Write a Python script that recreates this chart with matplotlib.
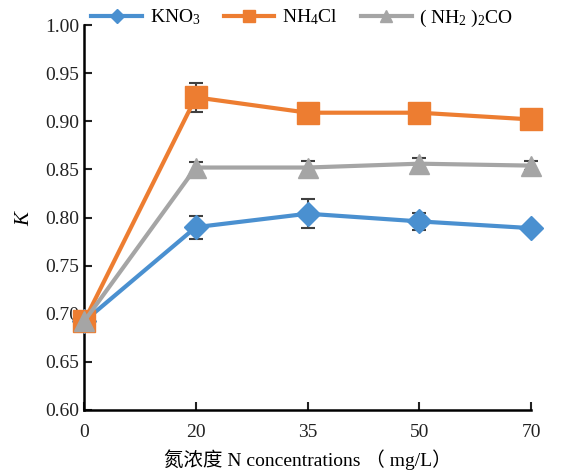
import matplotlib
matplotlib.use('Agg')
import matplotlib.pyplot as plt

plt.rcParams['font.family'] = ['Liberation Serif', 'Noto Sans CJK SC']
plt.rcParams['mathtext.fontset'] = 'custom'
plt.rcParams['mathtext.rm'] = 'Liberation Serif'
plt.rcParams['mathtext.it'] = 'Liberation Serif:italic'

# data
conc = ['0', '20', '35', '50', '70']
kno3 = [0.692, 0.790, 0.804, 0.796, 0.789]
kno3_err = [0.0, 0.012, 0.015, 0.009, 0.003]
nh4cl = [0.692, 0.925, 0.909, 0.909, 0.902]
nh4cl_err = [0.0, 0.015, 0.003, 0.003, 0.003]
urea = [0.692, 0.852, 0.852, 0.856, 0.854]
urea_err = [0.0, 0.006, 0.007, 0.006, 0.005]

fig = plt.figure(figsize=(5.76, 4.75), dpi=100)
ax = fig.add_axes([0.146, 0.137, 0.776, 0.81])

x = list(range(len(conc)))
series = [
    (kno3, kno3_err, '#4a90d0', 'D', 12.5, 'KNO$_3$'),
    (nh4cl, nh4cl_err, '#ed7d31', 's', 16.5, 'NH$_4$Cl'),
    (urea, urea_err, '#a5a5a5', '^', 15, '( NH$_2$ )$_2$CO'),
]
for y, e, c, m, ms, lab in series:
    ax.errorbar(x, y, yerr=e, fmt='none', ecolor='#404040', elinewidth=1.5,
                capsize=5, capthick=1.5, zorder=2, clip_on=False)
    ax.plot(x, y, color=c, lw=3, marker=m, ms=ms, label=lab, zorder=3,
            clip_on=False)

ax.set_xlim(0, 4)
ax.set_ylim(0.60, 1.00)
ax.set_xticks(x)
ax.set_xticklabels(conc)
ax.set_yticks([0.60 + 0.05 * i for i in range(9)])
ax.set_yticklabels(['%.2f' % (0.60 + 0.05 * i) for i in range(9)])
ax.tick_params(direction='in', length=6, width=1.5, labelsize=14, colors='#222222')
ax.tick_params(axis='x', pad=10)
ax.spines[['top', 'right']].set_visible(False)
ax.spines[['left', 'bottom']].set_linewidth(1.8)

ax.set_xlabel('氮浓度 N concentrations （ mg/L）', fontsize=14, labelpad=6)
ax.set_ylabel('$K$', fontsize=15, labelpad=8)

leg = fig.legend(loc='center', bbox_to_anchor=(0.525, 0.962), ncol=3, frameon=False,
                 fontsize=14, handlelength=2.6, columnspacing=1.2, handletextpad=0.4,
                 markerscale=0.55)

plt.savefig('out.png', dpi=100)
